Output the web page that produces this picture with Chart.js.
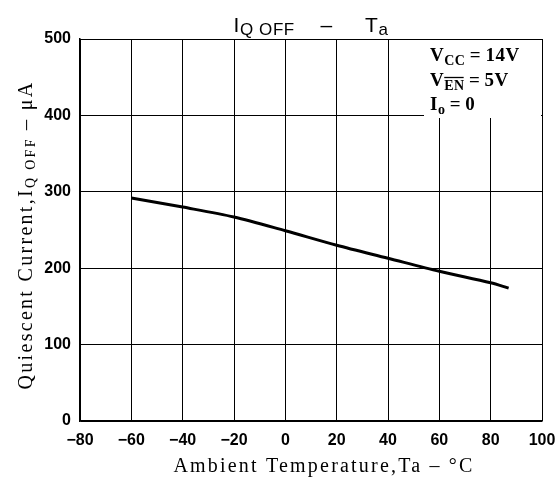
<!DOCTYPE html>
<html><head><meta charset="utf-8">
<script src="https://cdn.jsdelivr.net/npm/chart.js@4/dist/chart.umd.min.js"></script>
<style>html,body{margin:0;padding:0;background:#fff}</style>
</head><body>
<canvas id="c" width="558" height="477"></canvas>
<script>
// ---- data ----
const temperatureC = [-60, -40, -20, 0, 20, 40, 60, 80, 87];
const quiescentCurrentUA = [292, 280, 267, 249, 230, 213, 196, 181, 174];
const xTickValues = [-80, -60, -40, -20, 0, 20, 40, 60, 80, 100];
const yTickValues = [0, 100, 200, 300, 400, 500];
const titleParts = [{t:'I'}, {t:'Q OFF', sub:true}, {t:'    \u2013     T'}, {t:'a', sub:true}];
const xTitleParts = [{t:'Ambient Temperature,Ta \u2013 \u00B0C'}];
const yTitleParts = [{t:'Quiescent Current,I'}, {t:'Q OFF', sub:true}, {t:' \u2013 \u03BCA'}];
const noteLines = [
  [{t:'V'}, {t:'CC', sub:true}, {t:'\u2009=\u200914V'}],
  [{t:'V'}, {t:'EN', sub:true, over:true}, {t:'\u2009=\u20095V'}],
  [{t:'I'}, {t:'o', sub:true}, {t:'\u2009=\u20090'}]
];

function richWidth(ctx, parts, font, subFont) {
  let w = 0;
  for (const p of parts) { ctx.font = p.sub ? subFont : font; w += ctx.measureText(p.t).width; }
  return w;
}
function drawRich(ctx, x, y, parts, font, subFont, subDy, align) {
  const w = richWidth(ctx, parts, font, subFont);
  let cx = align === 'center' ? x - w / 2 : x;
  ctx.textAlign = 'left';
  ctx.textBaseline = 'alphabetic';
  for (const p of parts) {
    ctx.font = p.sub ? subFont : font;
    const pw = ctx.measureText(p.t).width;
    const yy = p.sub ? y + subDy : y;
    ctx.fillText(p.t, cx, yy);
    if (p.over) {
      ctx.beginPath();
      ctx.lineWidth = 1.3;
      ctx.moveTo(cx, yy - 12); ctx.lineTo(cx + pw - 1, yy - 12);
      ctx.stroke();
    }
    cx += pw;
  }
}

const textPlugin = {
  id: 'texts',
  beforeDatasetsDraw(chart) {
    const ctx = chart.ctx, a = chart.chartArea;
    ctx.save();
    ctx.fillStyle = '#fff';
    ctx.fillRect(a.right - 118, a.top + 1, 117, 78);
    ctx.restore();
  },
  afterDraw(chart) {
    const ctx = chart.ctx, a = chart.chartArea;
    ctx.save();
    ctx.fillStyle = '#000';
    ctx.strokeStyle = '#000';
    // title
    ctx.letterSpacing = '0.6px';
    drawRich(ctx, (a.left + a.right) / 2, 32, titleParts, '21px "Liberation Sans", Arial, sans-serif', '17px "Liberation Sans", Arial, sans-serif', 3, 'center');
    // x title
    ctx.letterSpacing = '2.2px';
    drawRich(ctx, (a.left + a.right) / 2 + 13, 472, xTitleParts, '20px "Liberation Serif", "Times New Roman", serif', '14px "Liberation Serif", serif', 4, 'center');
    // y title (rotated)
    ctx.letterSpacing = '2.3px';
    ctx.translate(32, (a.top + a.bottom) / 2 + 5);
    ctx.rotate(-Math.PI / 2);
    drawRich(ctx, 0, 0, yTitleParts, '20px "Liberation Serif", "Times New Roman", serif', '14px "Liberation Serif", serif', 3, 'center');
    ctx.restore();
    // note
    ctx.save();
    ctx.fillStyle = '#000';
    ctx.strokeStyle = '#000';
    ctx.letterSpacing = '0.5px';
    const nx = a.right - 112;
    noteLines.forEach((ln, i) => {
      drawRich(ctx, nx, 61 + i * 24.5, ln, 'bold 19px "Liberation Serif", "Times New Roman", serif', 'bold 14px "Liberation Serif", serif', 4, 'left');
    });
    ctx.restore();
  }
};

new Chart(document.getElementById('c'), {
  type: 'scatter',
  data: {
    datasets: [{
      data: temperatureC.map((t, i) => ({x: t, y: quiescentCurrentUA[i]})),
      showLine: true,
      borderColor: '#000',
      borderWidth: 3,
      pointRadius: 0,
      tension: 0.3,
      fill: false
    }]
  },
  options: {
    responsive: false,
    animation: false,
    devicePixelRatio: 1,
    layout: {padding: {left: 0, right: 16, top: 39, bottom: 0}},
    plugins: {legend: {display: false}, tooltip: {enabled: false}, title: {display: false}},
    scales: {
      x: {
        type: 'linear', min: -80, max: 100,
        afterBuildTicks(s) { s.ticks = xTickValues.map(v => ({value: v})); },
        afterFit(s) { s.height = 56; s.paddingRight = 0; s.paddingLeft = 0; },
        grid: {color: '#000', lineWidth: 1, drawTicks: false},
        border: {color: '#000', width: 1.5},
        ticks: {
          color: '#000', padding: 10, maxRotation: 0, autoSkip: false,
          font: {family: '"Liberation Sans", Arial, sans-serif', weight: 'bold', size: 16},
          callback: v => (v < 0 ? '\u2212' + Math.abs(v) : String(v))
        }
      },
      y: {
        type: 'linear', min: 0, max: 500,
        afterBuildTicks(s) { s.ticks = yTickValues.map(v => ({value: v})); },
        afterFit(s) { s.width = 80; s.paddingTop = 0; s.paddingBottom = 0; },
        grid: {color: '#000', lineWidth: 1, drawTicks: false},
        border: {color: '#000', width: 1.5},
        ticks: {
          color: '#000', padding: 9, autoSkip: false,
          font: {family: '"Liberation Sans", Arial, sans-serif', weight: 'bold', size: 16}
        }
      }
    }
  },
  plugins: [textPlugin]
});
</script>
</body></html>
